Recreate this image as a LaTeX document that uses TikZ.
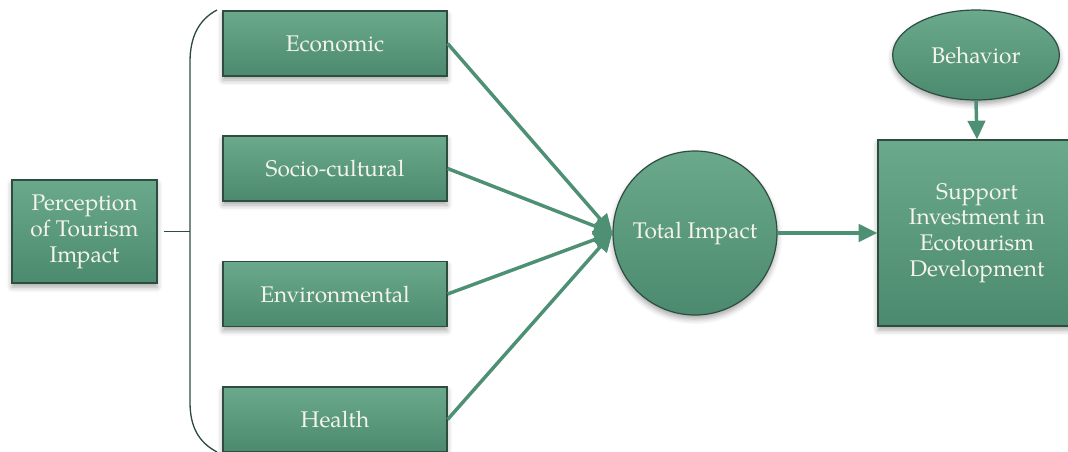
\documentclass[tikz,border=0pt]{standalone}
\usepackage{fontspec}
\setmainfont{TeX Gyre Pagella}
\usetikzlibrary{arrows.meta,shapes.geometric,shadows.blur}

\definecolor{boxtop}{HTML}{6AA98B}
\definecolor{boxbot}{HTML}{4B8A6E}
\definecolor{boxline}{HTML}{2E4D40}
\definecolor{arrowgreen}{HTML}{4E9074}
\definecolor{textwhite}{HTML}{F4F4EC}

\begin{document}
\begin{tikzpicture}[x=0.75pt,y=-0.75pt,
    box/.style={draw=boxline, line width=0.9pt, top color=boxtop, bottom color=boxbot,
      text=textwhite, align=center, inner sep=0pt,
      font=\fontsize{17}{19.4}\selectfont,
      blur shadow={shadow xshift=0pt, shadow yshift=-3pt, shadow blur radius=4pt, shadow opacity=35}},
    factor/.style={box, minimum width=168pt, minimum height=48.75pt},
    arr/.style={draw=arrowgreen, line width=2.6pt, -{Triangle[length=14pt,width=13pt]}},
    brace/.style={draw=boxline, line width=1pt}]
    \useasboundingbox (0,0) rectangle (1068,451);

    % left part
    \node[box, minimum width=108.75pt, minimum height=77.25pt] (perc) at (84.5,231.5)
      {Perception\\of Tourism\\Impact};
    \node[factor] (econ) at (335,43.5) {Economic};
    \node[factor] (soc) at (335,168.5) {Socio-cultural};
    \node[factor] (env) at (335,294) {Environmental};
    \node[factor] (hlth) at (335,419.5) {Health};

    % bracket
    \coordinate (brtop) at (217,10);
    \coordinate (brmid) at (190,231.5);
    \coordinate (brbot) at (217,452);
    \draw[brace] (brtop) .. controls (198,20) and (190,38) .. (190,62)
      -- (190,402) .. controls (190,426) and (198,442) .. (brbot);
    \draw[brace] ([xshift=4.5pt]perc.east) -- (brmid);

    % right part
    \node[box, circle, minimum size=123pt] (total) at (695,233) {Total Impact};
    \node[box, minimum width=148.5pt, minimum height=139.5pt] (sup) at (977,233)
      {Support\\Investment in\\Ecotourism\\Development};
    \node[box, ellipse, minimum width=125pt, minimum height=67.5pt] (beh) at (976,55) {Behavior};

    \draw[arr] (econ.east) -- (total.west);
    \draw[arr] (soc.east) -- (total.west);
    \draw[arr] (env.east) -- (total.west);
    \draw[arr] (hlth.east) -- (total.west);
    \draw[arr] (total.east) -- (sup.west);
    \draw[arr] (beh.south) -- (sup.north);
\end{tikzpicture}
\end{document}
